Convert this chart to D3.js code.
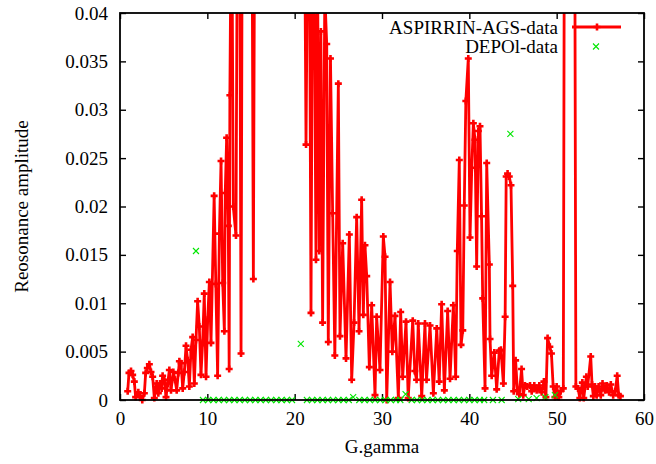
<!DOCTYPE html>
<html>
  <head>
    <meta charset="UTF-8" />
    <script src="https://d3js.org/d3.v7.min.js"></script>
  </head>
  <body style="margin: 0">
    <svg id="chart" width="656" height="464" font-family="Liberation Serif" font-size="19"></svg>

    <script>
      // ASPIRRIN-AGS data: G.gamma and resonance amplitude
      const gg = [
        0.88, 1.03, 1.26, 1.45, 1.64, 1.79, 2.1, 2.29, 2.55, 2.79, 2.94, 3.13, 3.36, 3.55, 3.74, 3.93,
        4.2, 4.39, 4.58, 4.77, 4.88, 5.08, 5.27, 5.46, 5.65, 5.84, 6.11, 6.3, 6.49, 6.68, 6.8, 6.99,
        7.18, 7.37, 7.56, 7.75, 7.94, 8.13, 8.32, 8.51, 8.7, 8.89, 9.08, 9.27, 9.46, 9.65, 9.85, 10.04,
        10.23, 10.42, 10.78, 10.97, 11.18, 11.38, 11.57, 11.76, 11.95, 12.05, 12.21, 12.4, 12.5, 12.58,
        12.78, 12.97, 13.28, 13.55, 13.7, 13.86, 14.05, 14.3, 14.6, 14.9, 15.1, 15.27, 15.45, 15.8,
        16.1, 16.4, 16.7, 17.0, 17.3, 17.6, 17.9, 18.2, 18.5, 18.8, 19.1, 19.4, 19.7, 20.0, 20.3, 20.6,
        20.9, 21.1, 21.3, 21.5, 21.7, 21.87, 22.05, 22.25, 22.44, 22.62, 22.82, 23.0, 23.2, 23.45,
        23.67, 23.85, 24.1, 24.35, 24.6, 25.0, 25.19, 25.5, 25.88, 26.26, 26.53, 26.8, 27.1, 27.37,
        27.67, 27.86, 28.05, 28.25, 28.55, 28.82, 29.2, 29.39, 29.77, 30.15, 30.35, 30.54, 30.92,
        31.18, 31.49, 31.87, 32.14, 32.37, 32.75, 33.0, 33.52, 33.75, 33.96, 34.15, 34.55, 34.92,
        35.1, 35.5, 35.88, 36.27, 36.55, 36.83, 37.14, 37.52, 37.79, 38.17, 38.44, 38.62, 38.85,
        39.05, 39.25, 39.42, 39.6, 39.88, 40.08, 40.28, 40.46, 40.65, 40.84, 41.03, 41.22, 41.4,
        41.53, 41.8, 41.99, 42.29, 42.37, 42.56, 42.86, 43.13, 43.43, 43.62, 43.9, 44.1, 44.22,
        44.38, 44.57, 44.77, 44.97, 45.08, 45.3, 45.5, 45.72, 45.98, 46.17, 46.37, 46.64, 46.95,
        47.14, 47.44, 47.71, 48.01, 48.28, 48.54, 48.77, 48.96, 49.22, 49.4, 49.6, 49.8, 50.0, 50.25,
        50.46, 50.76, 50.95, 51.5, 52.02, 52.2, 52.45, 52.65, 52.94, 53.1, 53.4, 53.55, 53.9, 54.05,
        54.2, 54.39, 54.58, 54.8, 55.05, 55.25, 55.53, 55.75, 56.0, 56.2, 56.47, 56.7, 56.93, 57.1,
        57.3
      ];
      const amp = [
        0.0009, 0.0028, 0.003, 0.0026, 0.0019, 0.0003, 0.0008, 0.0004, 0.0, 0.0007, 0.0028, 0.0033,
        0.0037, 0.0029, 0.0024, 0.0002, 0.0017, 0.0007, 0.0017, 0.0012, 0.0025, 0.0021, 0.0003,
        0.0017, 0.0031, 0.001, 0.0029, 0.0021, 0.001, 0.0028, 0.004, 0.0038, 0.0012, 0.0029, 0.0056,
        0.0041, 0.0014, 0.0052, 0.0065, 0.0017, 0.0062, 0.0102, 0.0076, 0.0026, 0.0059, 0.011,
        0.0024, 0.0083, 0.0122, 0.0059, 0.0211, 0.012, 0.0025, 0.0172, 0.0247, 0.0121, 0.0071,
        0.0214, 0.0271, 0.018, 0.0032, 0.0315, 0.056, 0.02, 0.017, 0.075, 0.052, 0.0048, 0.07, 0.09,
        0.08, 0.065, 0.055, 0.0125, 0.06, 0.085, 0.095, 0.11, 0.1, 0.12, 0.115, 0.13, 0.125, 0.11,
        0.12, 0.105, 0.095, 0.1, 0.09, 0.085, 0.075, 0.07, 0.06, 0.055, 0.0264, 0.05, 0.046, 0.009,
        0.048, 0.043, 0.0145, 0.044, 0.0154, 0.0381, 0.008, 0.042, 0.0368, 0.006, 0.0353, 0.0193,
        0.0046, 0.0327, 0.0066, 0.0162, 0.0043, 0.0171, 0.0021, 0.008, 0.0189, 0.0071, 0.0207,
        0.0088, 0.016, 0.0128, 0.0034, 0.0098, 0.0005, 0.0086, 0.0031, 0.0169, 0.0148, 0.0, 0.0122,
        0.005, 0.0087, 0.0002, 0.0091, 0.0024, 0.0081, 0.0002, 0.0082, 0.003, 0.0021, 0.0079,
        0.0004, 0.0079, 0.0021, 0.0077, 0.0007, 0.0074, 0.0019, 0.0099, 0.001, 0.0092, 0.0022,
        0.0098, 0.0024, 0.0154, 0.0248, 0.0057, 0.0072, 0.0201, 0.0309, 0.0353, 0.0168, 0.024,
        0.0286, 0.0269, 0.0138, 0.0278, 0.0283, 0.019, 0.0105, 0.0012, 0.0245, 0.014, 0.0063,
        0.0025, 0.0049, 0.0011, 0.0051, 0.0052, 0.0017, 0.0086, 0.0231, 0.0234, 0.0231, 0.0222,
        0.0118, 0.0009, 0.0041, 0.001, 0.0006, 0.0032, 0.0005, 0.0015, 0.0014, 0.0015, 0.0009,
        0.0015, 0.001, 0.0015, 0.0008, 0.0019, 0.0003, 0.0064, 0.0055, 0.0048, 0.0014, 0.0003,
        0.0014, 0.0003, 0.0009, 0.0012, 0.08, 0.1, 0.07, 0.0014, 0.0012, 0.0002, 0.0018, 0.0002,
        0.0024, 0.0014, 0.0045, 0.0016, 0.0004, 0.0014, 0.0005, 0.0014, 0.0005, 0.0017, 0.001,
        0.0015, 0.0008, 0.0016, 0.0005, 0.0009, 0.0025, 0.0005, 0.0004
      ];

      // DEPOl data
      const depolX = [
        8.7, 9.5, 10.1, 10.7, 11.3, 11.9, 12.5, 13.1, 13.7, 14.3, 14.9, 15.5, 16.1, 16.7, 17.3, 17.9,
        18.5, 19.1, 19.7, 20.7, 21.4, 22.0, 22.6, 23.2, 23.8, 24.4, 25.0, 25.6, 26.2, 26.7, 27.4,
        28.0, 28.6, 29.2, 29.8, 30.4, 31.0, 31.6, 32.1, 32.7, 33.4, 34.0, 34.6, 35.2, 35.8, 36.4,
        37.0, 37.6, 38.2, 38.8, 39.4, 40.0, 40.6, 41.2, 41.7, 42.7, 43.7, 44.7, 45.6, 46.8, 47.7,
        48.7, 49.8
      ];
      const depolY = [
        0.0154, 0, 0, 0, 0, 0, 0, 0, 0, 0, 0, 0, 0, 0, 0, 0, 0, 0, 0, 0.0058, 0, 0, 0, 0, 0, 0, 0, 0,
        0, 0.0003, 0, 0, 0, 0, 0, 0, 0, 0, 0, 0.0006, 0, 0, 0, 0, 0, 0, 0, 0, 0, 0, 0, 0, 0, 0, 0, 0,
        0, 0.0275, 0.0001, 0.0001, 0.0002, 0.0003, 0.0005
      ];

      const xTicks = [0, 10, 20, 30, 40, 50, 60];
      const yTicks = [0, 0.005, 0.01, 0.015, 0.02, 0.025, 0.03, 0.035, 0.04];

      const margin = { top: 13, right: 12, bottom: 64, left: 120 };
      const width = 656 - margin.left - margin.right;
      const height = 464 - margin.top - margin.bottom;

      const svg = d3.select("#chart");
      const g = svg
        .append("g")
        .attr("transform", `translate(${margin.left}, ${margin.top})`);

      const x = d3.scaleLinear().domain([0, 60]).range([0, width]);
      const y = d3.scaleLinear().domain([0, 0.04]).range([height, 0]);
      const fmt = (d) => String(+d.toFixed(3));

      g.append("clipPath")
        .attr("id", "clip")
        .append("rect")
        .attr("width", width)
        .attr("height", height);

      // axes: ticks point inward on all four sides, like gnuplot.
      // d3 puts font-family="sans-serif" on each axis group, so drop it.
      function styleAxis(sel) {
        sel.attr("font-family", null).attr("font-size", null);
        sel.select(".domain").remove();
        sel.selectAll(".tick line").attr("stroke-width", 1.4);
      }

      g.append("g")
        .attr("transform", `translate(0, ${height})`)
        .call(d3.axisBottom(x).tickValues(xTicks).tickSizeInner(-6).tickSizeOuter(0).tickPadding(12))
        .call(styleAxis);
      g.append("g")
        .call(d3.axisTop(x).tickValues(xTicks).tickSizeInner(-6).tickSizeOuter(0).tickFormat(""))
        .call(styleAxis);
      g.append("g")
        .call(d3.axisLeft(y).tickValues(yTicks).tickSizeInner(-6).tickSizeOuter(0).tickPadding(12).tickFormat(fmt))
        .call(styleAxis);
      g.append("g")
        .attr("transform", `translate(${width}, 0)`)
        .call(d3.axisRight(y).tickValues(yTicks).tickSizeInner(-6).tickSizeOuter(0).tickFormat(""))
        .call(styleAxis);

      const red = "#ff0000";
      const green = "#00e600";
      const plus = "M-3.5,0H3.5M0,-3.5V3.5";
      const cross = "M-3,-3L3,3M-3,3L3,-3";

      const aspirrin = gg.map((d, i) => ({ x: d, y: amp[i] }));
      const depol = depolX.map((d, i) => ({ x: d, y: depolY[i] }));

      // ASPIRRIN line, clipped to the frame
      g.append("path")
        .datum(aspirrin)
        .attr("clip-path", "url(#clip)")
        .attr("fill", "none")
        .attr("stroke", red)
        .attr("stroke-width", 2.8)
        .attr("stroke-linejoin", "round")
        .attr("d", d3.line().x((d) => x(d.x)).y((d) => y(d.y)));

      g.append("g")
        .selectAll("path")
        .data(aspirrin.filter((d) => d.y <= 0.04))
        .enter()
        .append("path")
        .attr("transform", (d) => `translate(${x(d.x)}, ${y(d.y)})`)
        .attr("d", plus)
        .attr("stroke", red)
        .attr("stroke-width", 2.6);

      g.append("g")
        .selectAll("path")
        .data(depol)
        .enter()
        .append("path")
        .attr("transform", (d) => `translate(${x(d.x)}, ${y(d.y)})`)
        .attr("d", cross)
        .attr("stroke", green)
        .attr("stroke-width", 1.1);

      // frame
      g.append("rect")
        .attr("width", width)
        .attr("height", height)
        .attr("fill", "none")
        .attr("stroke", "#000")
        .attr("stroke-width", 1.8);

      // legend
      const legend = svg.append("g");
      legend.append("text").attr("x", 558).attr("y", 33.5).attr("text-anchor", "end").text("ASPIRRIN-AGS-data");
      legend.append("text").attr("x", 558).attr("y", 52.5).attr("text-anchor", "end").text("DEPOl-data");
      legend.append("line")
        .attr("x1", 572).attr("x2", 621).attr("y1", 27).attr("y2", 27)
        .attr("stroke", red).attr("stroke-width", 2.8);
      legend.append("path").attr("transform", "translate(597, 27)").attr("d", plus)
        .attr("stroke", red).attr("stroke-width", 2.6);
      legend.append("path").attr("transform", "translate(596, 46.5)").attr("d", cross)
        .attr("stroke", green).attr("stroke-width", 1.1);

      // axis titles
      svg.append("text")
        .attr("x", margin.left + width / 2)
        .attr("y", 453)
        .attr("text-anchor", "middle")
        .text("G.gamma");
      svg.append("text")
        .attr("transform", `translate(28, ${margin.top + height / 2}) rotate(-90)`)
        .attr("text-anchor", "middle")
        .text("Reosonance amplitude");

      svg.selectAll("text")
        .style("font-family", '"Liberation Serif"')
        .style("font-size", "19px")
        .attr("fill", "#000");
    </script>
  </body>
</html>
